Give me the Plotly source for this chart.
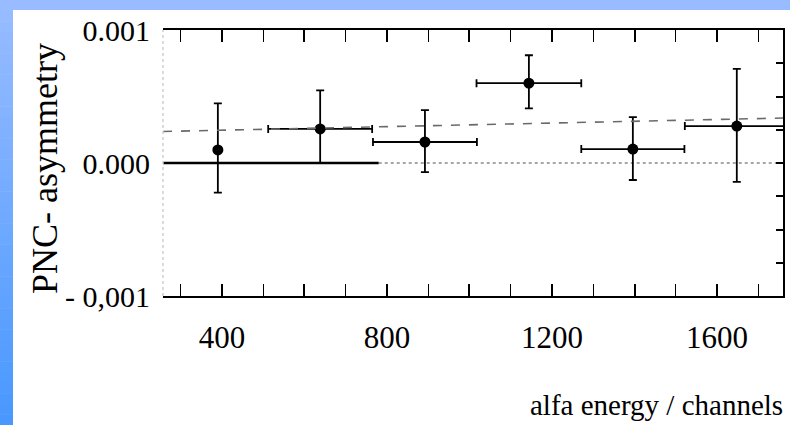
import plotly.graph_objects as go

# ---- data ----
channels = [390, 638, 892, 1144, 1396, 1648]
asym = [0.000098, 0.000256, 0.000158, 0.00060, 0.000105, 0.000278]
asym_err_plus = [0.00035, 0.00029, 0.00024, 0.00021, 0.00024, 0.00043]
asym_err_minus = [0.00032, 0.000256, 0.000226, 0.00019, 0.000233, 0.00042]
chan_half_width = [0, 126, 126, 127, 125, 126]

fit_x = [257, 1760]
fit_y = [0.000237, 0.000338]

zero_solid_x = [257, 780]
zero_dotted_x = [780, 1760]

x_tickvals = [400, 600, 800, 1000, 1200, 1400, 1600]
x_ticktext = ["400", "", "800", "", "1200", "", "1600"]
y_tickvals = [-0.001, 0.0, 0.001]
y_ticktext = ["- 0,001", "0.000", "0.001"]
y_right_ticks = [-0.001, -0.00075, -0.0005, -0.00025, 0.0, 0.00025, 0.0005, 0.00075, 0.001]

W, H = 790, 425
L, R, T, B = 163, 783, 30, 296
FONT = "Liberation Serif, Times New Roman, serif"


def px(xp):
    return (xp - L) / (R - L)


def py(yp):
    return (B - yp) / (B - T)


fig = go.Figure()

# zero line
fig.add_trace(go.Scatter(x=zero_solid_x, y=[0, 0], mode="lines",
                         line=dict(color="black", width=2.5), hoverinfo="skip", showlegend=False))
fig.add_trace(go.Scatter(x=zero_dotted_x, y=[0, 0], mode="lines",
                         line=dict(color="#8a8a8a", width=1.5, dash="dot"), hoverinfo="skip", showlegend=False))

# fit line (faint dashed)
fig.add_trace(go.Scatter(x=fit_x, y=fit_y, mode="lines", yaxis="y2",
                         line=dict(color="#6a6a6a", width=1.6, dash="dash"), hoverinfo="skip", showlegend=False))

# data points
fig.add_trace(go.Scatter(
    x=channels, y=asym, mode="markers",
    marker=dict(color="black", size=11),
    error_y=dict(type="data", symmetric=False, array=asym_err_plus, arrayminus=asym_err_minus,
                 color="black", thickness=1.8, width=4),
    error_x=dict(type="data", array=chan_half_width, color="black", thickness=1.8, width=4),
    showlegend=False,
))

shapes = []
# top light-blue band
shapes.append(dict(type="rect", xref="paper", yref="paper", x0=px(0), x1=px(W), y0=py(10), y1=py(0),
                   fillcolor="#99bbff", line=dict(width=0), layer="above"))
# left gradient band
n = 40
c_top = (0x9a, 0xbd, 0xff)
c_bot = (0x48, 0x98, 0xff)
for i in range(n):
    y0p = i * H / n
    y1p = (i + 1) * H / n + 0.5
    f = (i + 0.5) / n
    col = "rgb(%d,%d,%d)" % tuple(int(c_top[k] + (c_bot[k] - c_top[k]) * f) for k in range(3))
    shapes.append(dict(type="rect", xref="paper", yref="paper", x0=px(0), x1=px(13),
                       y0=py(y1p), y1=py(y0p), fillcolor=col, line=dict(width=0), layer="above"))
# faint left axis
shapes.append(dict(type="line", xref="paper", yref="paper", x0=0, x1=0, y0=0, y1=1,
                   line=dict(color="#cfcfcf", width=1.5, dash="dot"), layer="above"))

annotations = [
    dict(text="PNC- asymmetry", xref="paper", yref="paper", x=px(45), y=py(169),
         textangle=-90, showarrow=False, font=dict(family=FONT, size=36, color="black"),
         xanchor="center", yanchor="middle"),
    dict(text="alfa energy / channels", xref="paper", yref="paper", x=px(785), y=py(405),
         showarrow=False, font=dict(family=FONT, size=29, color="black"),
         xanchor="right", yanchor="middle"),
]

fig.update_layout(
    width=W, height=H,
    margin=dict(l=L, r=W - R, t=T, b=H - B),
    paper_bgcolor="white", plot_bgcolor="white",
    shapes=shapes, annotations=annotations,
    font=dict(family=FONT, size=29, color="black"),
    xaxis=dict(range=[257, 1760], tickmode="array", tickvals=x_tickvals, ticktext=x_ticktext,
               ticks="inside", ticklen=12, tickwidth=1.5, tickcolor="black",
               minor=dict(ticks="inside", ticklen=6, dtick=100, tickcolor="black", tickwidth=1.2),
               showline=True, linecolor="black", linewidth=2, mirror="allticks",
               showgrid=False, zeroline=False, ticklabelstandoff=13,
               tickfont=dict(family=FONT, size=31)),
    yaxis=dict(range=[-0.001, 0.001], tickmode="array", tickvals=y_tickvals, ticktext=y_ticktext,
               ticks="", showline=False, showgrid=False, zeroline=False, ticklabelstandoff=12,
               tickfont=dict(family=FONT, size=30)),
    yaxis2=dict(range=[-0.001, 0.001], overlaying="y", side="right", tickmode="array",
                tickvals=y_right_ticks, ticks="inside", ticklen=7, tickwidth=1.5, tickcolor="black",
                showticklabels=False, showline=True, linecolor="black", linewidth=2,
                showgrid=False, zeroline=False),
)

fig.write_html("out.html")
